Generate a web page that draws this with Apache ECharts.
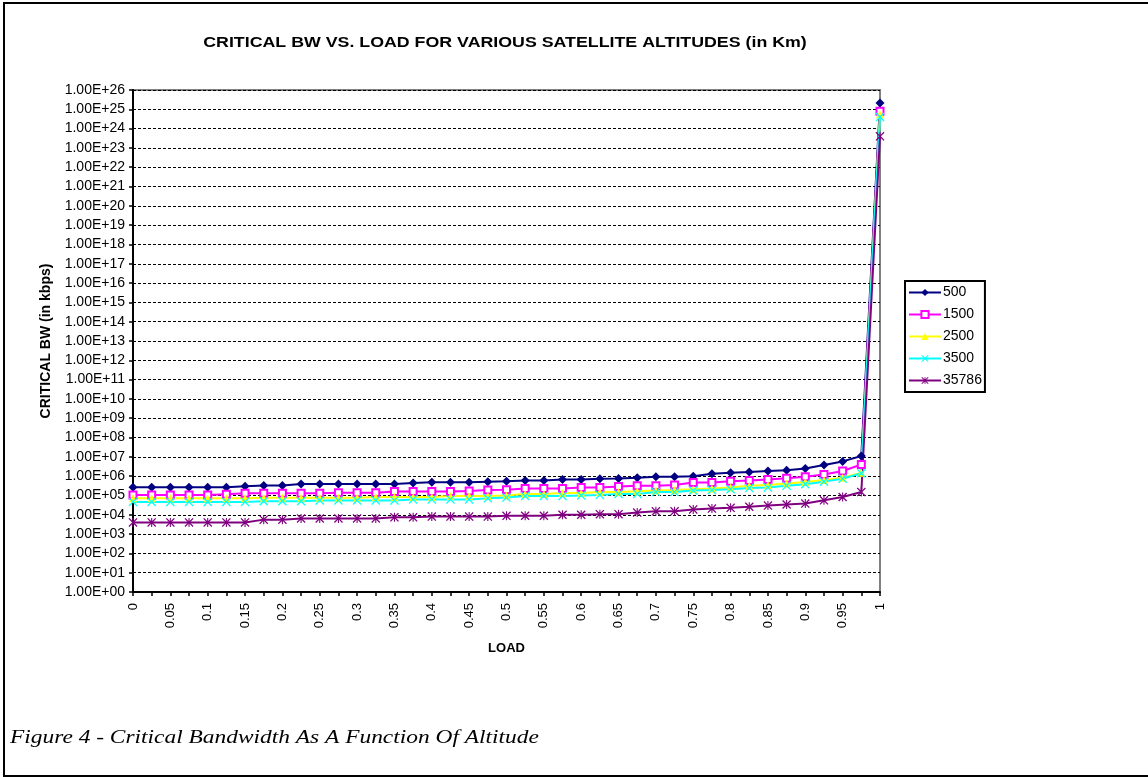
<!DOCTYPE html>
<html>
<head>
<meta charset="utf-8">
<script src="https://cdn.jsdelivr.net/npm/echarts@6/dist/echarts.min.js"></script>
<style>
html,body{margin:0;padding:0;background:#fff;}
#chart{width:1148px;height:777px;}
</style>
</head>
<body>
<div id="chart"></div>
<script>
// ---- data ----
var loads = [0,0.025,0.05,0.075,0.1,0.125,0.15,0.175,0.2,0.225,0.25,0.275,0.3,0.325,0.35,0.375,0.4,0.425,0.45,0.475,0.5,0.525,0.55,0.575,0.6,0.625,0.65,0.675,0.7,0.725,0.75,0.775,0.8,0.825,0.85,0.875,0.9,0.925,0.95,0.975,1];
var seriesNames = ["500","1500","2500","3500","35786"];
var s500 = [2.7e5,2.7e5,2.7e5,2.7e5,2.7e5,2.7e5,3.0e5,3.3e5,3.3e5,3.9e5,3.9e5,3.9e5,3.9e5,3.9e5,3.9e5,4.4e5,4.9e5,4.9e5,4.9e5,5.2e5,5.5e5,6.0e5,6.0e5,6.8e5,6.8e5,7.4e5,7.6e5,8.3e5,9.3e5,9.3e5,1.0e6,1.35e6,1.5e6,1.66e6,1.86e6,2.0e6,2.5e6,3.8e6,5.8e6,1.1e7,2.1e25];
var s1500 = [1.05e5,1.05e5,1.05e5,1.05e5,1.05e5,1.17e5,1.3e5,1.3e5,1.3e5,1.3e5,1.3e5,1.4e5,1.4e5,1.4e5,1.6e5,1.6e5,1.6e5,1.6e5,1.7e5,1.9e5,2.0e5,2.3e5,2.3e5,2.3e5,2.6e5,2.6e5,2.95e5,3.2e5,3.2e5,3.5e5,4.7e5,4.7e5,5.4e5,6.0e5,6.8e5,7.9e5,9.3e5,1.23e6,1.86e6,4.0e6,8e24];
var s2500 = [7.1e4,7.1e4,7.1e4,7.1e4,7.1e4,7.1e4,7.1e4,7.6e4,7.6e4,7.6e4,7.6e4,7.6e4,7.6e4,8.3e4,8.3e4,8.3e4,8.3e4,9.3e4,9.3e4,9.3e4,1.0e5,1.2e5,1.2e5,1.35e5,1.35e5,1.5e5,1.5e5,1.66e5,1.8e5,1.9e5,2.1e5,2.3e5,2.6e5,3.2e5,3.5e5,4.2e5,5.0e5,6.3e5,8.3e5,1.5e6,5.6e24];
var s3500 = [4.6e4,4.6e4,4.6e4,4.6e4,4.6e4,4.6e4,4.6e4,5.0e4,5.0e4,5.0e4,5.5e4,5.5e4,5.5e4,5.5e4,5.5e4,6.2e4,6.2e4,6.2e4,6.2e4,7.1e4,7.8e4,9.3e4,9.3e4,9.3e4,1.0e5,1.07e5,1.2e5,1.2e5,1.5e5,1.5e5,1.8e5,1.9e5,2.1e5,2.4e5,2.6e5,3.2e5,3.8e5,5.2e5,7.4e5,1.4e6,4e24];
var s35786 = [4.0e3,4.0e3,4.0e3,4.0e3,4.0e3,4.0e3,4.0e3,5.6e3,5.6e3,6.5e3,6.5e3,6.5e3,6.5e3,6.5e3,7.4e3,7.4e3,8.1e3,8.1e3,8.1e3,8.1e3,8.8e3,8.9e3,8.9e3,1.0e4,1.0e4,1.07e4,1.07e4,1.3e4,1.5e4,1.5e4,1.9e4,2.1e4,2.3e4,2.6e4,3.0e4,3.4e4,3.8e4,5.6e4,8.3e4,1.5e5,4e23];

var titleText = "CRITICAL BW VS. LOAD FOR VARIOUS SATELLITE ALTITUDES (in Km)";
var yName = "CRITICAL BW (in kbps)";
var xName = "LOAD";
var caption = "Figure 4 - Critical Bandwidth As A Function Of Altitude";

// ---- styles ----
var colors = ["#000080","#FF00FF","#FFFF00","#00FFFF","#800080"];
var xPath = 'path://M0,1L1,0L5,4L9,0L10,1L6,5L10,9L9,10L5,6L1,10L0,9L4,5Z';
var starPath = 'path://M0,1L1,0L5,4L9,0L10,1L6,5L10,9L9,10L5,6L1,10L0,9L4,5Z M4.4,0L5.6,0L5.6,10L4.4,10Z';
var symbols = ['diamond','emptyRect','triangle',xPath,starPath];
var symbolSizes = [9,7,8,9,9];
var dataArr = [s500,s1500,s2500,s3500,s35786];
var FONT = 'Liberation Sans, Arial, sans-serif';

var chart = echarts.init(document.getElementById('chart'), null, {renderer:'canvas'});

function fmtExp(v){
  var e = Math.round(Math.log(v)/Math.LN10);
  return '1.00E+' + (e < 10 ? '0' + e : '' + e);
}

var series = seriesNames.map(function(n,i){
  return {
    name: n,
    type: 'line',
    data: dataArr[i],
    symbol: symbols[i],
    symbolSize: symbolSizes[i],
    showAllSymbol: true,
    lineStyle: {color: colors[i], width: 2},
    itemStyle: i === 1 ? {color: colors[i], borderColor: colors[i], borderWidth: 1.5} : {color: colors[i]},
    emphasis: {disabled: true},
    animation: false
  };
});

chart.setOption({
  animation: false,
  backgroundColor: '#fff',
  legend: {
    orient: 'vertical',
    left: 905, top: 281,
    data: seriesNames,
    itemWidth: 32, itemHeight: 9,
    itemGap: 7,
    padding: [4, 3, 4, 3],
    borderColor: '#000', borderWidth: 2,
    textStyle: {fontFamily: FONT, fontSize: 14, lineHeight: 15, color: '#000', padding: [0,0,0,-3]}
  },
  grid: {
    left: 133, right: 268, top: 90, bottom: 185,
    show: true, borderColor: '#808080', borderWidth: 2, backgroundColor: 'transparent'
  },
  xAxis: {
    type: 'category',
    data: loads.map(String),
    boundaryGap: false,
    name: xName, nameLocation: 'middle', nameGap: 50,
    nameTextStyle: {fontFamily: FONT, fontSize: 13, fontWeight: 'bold', color: '#000'},
    axisLine: {show: true, lineStyle: {color: '#000', width: 2}},
    axisTick: {show: true, interval: 0, length: 4, lineStyle: {color: '#000', width: 1.5}},
    axisLabel: {interval: 1, rotate: 90, margin: 11, color: '#000', fontFamily: FONT, fontSize: 13},
    splitLine: {show: false}
  },
  yAxis: {
    type: 'log', logBase: 10, min: 1, max: 1e26, interval: 1,
    name: yName, nameLocation: 'middle', nameGap: 80, nameRotate: 90,
    nameTextStyle: {fontFamily: FONT, fontSize: 14, fontWeight: 'bold', color: '#000'},
    axisLine: {show: true, lineStyle: {color: '#000', width: 2}},
    axisTick: {show: true, length: 4, lineStyle: {color: '#000', width: 1.5}},
    axisLabel: {formatter: fmtExp, margin: 8, color: '#000', fontFamily: FONT, fontSize: 14},
    splitLine: {show: true, lineStyle: {color: '#000', width: 1, type: [3,2]}},
    minorTick: {show: false}
  },
  graphic: [
    {type: 'rect', shape: {x: 4, y: 3, width: 1150, height: 773}, style: {fill: 'none', stroke: '#000', lineWidth: 2}, silent: true, z: 100},
    {type: 'text', x: 505, y: 43, scaleX: 1.27, style: {text: titleText, fill: '#000', align: 'center', verticalAlign: 'middle', font: 'bold 14px "Liberation Sans", Arial, sans-serif'}, z: 100},
    {type: 'text', x: 10, y: 738, scaleX: 1.3, style: {text: caption, fill: '#000', align: 'left', verticalAlign: 'middle', font: 'italic 18px "Liberation Serif", "Times New Roman", serif'}, z: 100}
  ],
  series: series
});
</script>
</body>
</html>
